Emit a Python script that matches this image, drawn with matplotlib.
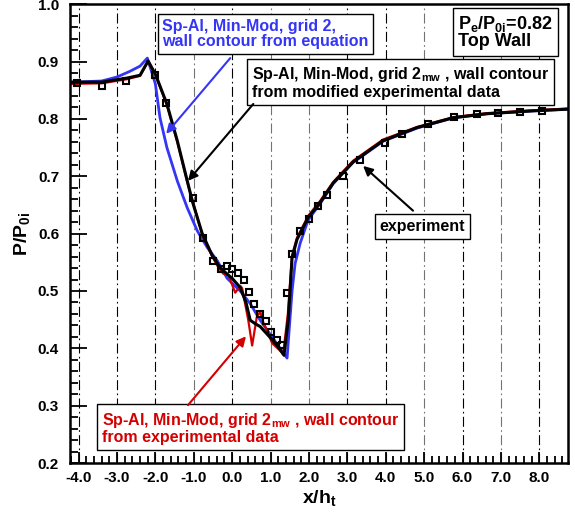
import matplotlib
matplotlib.use("Agg")
import matplotlib.pyplot as plt
from matplotlib.ticker import MultipleLocator, AutoMinorLocator, FormatStrFormatter

plt.rcParams['font.family'] = ['Liberation Sans', 'DejaVu Sans']
plt.rcParams['font.weight'] = 'bold'
plt.rcParams['axes.labelweight'] = 'bold'
plt.rcParams['mathtext.fontset'] = 'custom'
plt.rcParams['mathtext.rm'] = 'Liberation Sans:bold'
plt.rcParams['mathtext.it'] = 'Liberation Sans:bold'
plt.rcParams['mathtext.bf'] = 'Liberation Sans:bold'
plt.rcParams['mathtext.default'] = 'rm'

# experiment (open squares)
x_exp = [-4.04, -3.39, -2.76, -2.0, -1.72, -1.02, -0.76, -0.49, -0.29, -0.13, 0.0, 0.16,
         0.30, 0.44, 0.58, 0.73, 0.88, 1.02, 1.16, 1.30, 1.43, 1.55, 1.76, 1.99, 2.23,
         2.46, 2.89, 3.33, 3.98, 4.42, 5.10, 5.78, 6.38, 6.93, 7.50, 8.07]
p_exp = [0.862, 0.858, 0.866, 0.876, 0.828, 0.662, 0.593, 0.553, 0.539, 0.543, 0.538, 0.531,
         0.519, 0.499, 0.478, 0.460, 0.448, 0.429, 0.415, 0.405, 0.496, 0.564, 0.604, 0.626, 0.649,
         0.667, 0.701, 0.728, 0.758, 0.774, 0.791, 0.803, 0.809, 0.810, 0.812, 0.814]

# Sp-Al, Min-Mod, grid 2, wall contour from equation
x_eq = [-4.2, -3.4, -3.0, -2.66, -2.4, -2.21, -2.0, -1.88, -1.7, -1.43, -1.17, -0.91, -0.65,
        -0.39, -0.13, 0.21, 0.47, 0.73, 1.07, 1.43, 1.56, 1.64, 1.77, 1.98, 2.29, 2.63,
        3.15, 3.93, 4.82, 5.76, 6.64, 7.84, 8.75]
p_eq = [0.864, 0.866, 0.873, 0.883, 0.892, 0.906, 0.861, 0.802, 0.750, 0.692, 0.645, 0.605, 0.576,
        0.553, 0.522, 0.500, 0.478, 0.449, 0.417, 0.383, 0.500, 0.548, 0.583, 0.624, 0.652, 0.687,
        0.724, 0.761, 0.784, 0.802, 0.809, 0.814, 0.817]

# grid 2mw, wall contour from experimental data
x_ed = [-4.2, -3.4, -2.75, -2.4, -2.19, -2.0, -1.7, -1.43, -1.17, -0.78, -0.52, -0.35, -0.23,
        -0.1, 0.08, 0.21, 0.26, 0.42, 0.52, 0.64, 0.73, 0.81, 0.91, 1.04, 1.33, 1.45, 1.56,
        1.69, 1.98, 2.29, 2.63, 3.15, 3.93, 4.82, 5.76, 6.64, 7.84, 8.75]
p_ed = [0.861, 0.862, 0.869, 0.875, 0.900, 0.877, 0.824, 0.760, 0.690, 0.598, 0.560, 0.540, 0.530,
        0.528, 0.497, 0.509, 0.505, 0.449, 0.405, 0.454, 0.464, 0.445, 0.431, 0.409, 0.391, 0.460, 0.562,
        0.593, 0.631, 0.657, 0.690, 0.727, 0.764, 0.786, 0.803, 0.810, 0.815, 0.818]

# grid 2mw, wall contour from modified experimental data
x_md = [-4.2, -3.4, -2.75, -2.4, -2.19, -2.0, -1.7, -1.43, -1.17, -1.04, -0.78, -0.52, -0.31,
        0.0, 0.21, 0.36, 0.47, 0.6, 0.73, 0.99, 1.17, 1.35, 1.46, 1.56, 1.69, 1.98, 2.29,
        2.63, 3.15, 3.93, 4.82, 5.76, 6.64, 7.84, 8.75]
p_md = [0.864, 0.864, 0.871, 0.876, 0.901, 0.878, 0.826, 0.762, 0.692, 0.657, 0.600, 0.562, 0.540,
        0.522, 0.506, 0.480, 0.449, 0.443, 0.438, 0.419, 0.405, 0.388, 0.449, 0.558, 0.590, 0.628, 0.654,
        0.688, 0.725, 0.762, 0.785, 0.802, 0.809, 0.814, 0.817]

x_grid = [-4, -3, -2, -1, 0, 1, 2, 3, 4, 5, 6, 7, 8]
grid_col = ['k', 'k', 'k', '0.45', 'k', '0.45', '0.45', 'k', 'k', '0.45', 'k', '0.45', 'k']

fig = plt.figure(figsize=(5.75, 5.18), dpi=100)
ax = fig.add_axes([0.122, 0.106, 0.866, 0.886])

for xg, c in zip(x_grid, grid_col):
    ax.axvline(xg, color=c, lw=0.8, ls=(0, (9, 3, 1.5, 3)), zorder=0)

blue = '#3535f5'
red = '#d40000'
ax.plot(x_eq, p_eq, color=blue, lw=2)
ax.plot(x_ed, p_ed, color=red, lw=1.6)
ax.plot(x_md, p_md, color='k', lw=2.2)
ax.plot(x_exp, p_exp, ls='none', marker='s', ms=5, mfc='none', mec='k', mew=1.5)

ax.set_xlim(-4.22, 8.75)
ax.set_ylim(0.2, 1.0)
ax.xaxis.set_major_locator(MultipleLocator(1))
ax.xaxis.set_minor_locator(AutoMinorLocator(5))
ax.yaxis.set_major_locator(MultipleLocator(0.1))
ax.yaxis.set_minor_locator(AutoMinorLocator(5))
ax.xaxis.set_major_formatter(FormatStrFormatter('%.1f'))
ax.yaxis.set_major_formatter(FormatStrFormatter('%.1f'))
ax.tick_params(which='both', direction='in', width=1.3, labelsize=11)
ax.tick_params(axis='y', which='major', length=12, pad=8)
ax.tick_params(axis='y', which='minor', length=6)
ax.tick_params(axis='x', which='major', length=8, pad=6)
ax.tick_params(axis='x', which='minor', length=5)
for s in ax.spines.values():
    s.set_linewidth(1.8)

ax.set_xlabel('x/h$_t$', fontsize=14, fontweight='bold', labelpad=2)
ax.set_ylabel('P/P$_{0i}$', fontsize=14, fontweight='bold', labelpad=4)

fs = 11.5
box = dict(boxstyle='square,pad=0.3', fc='white', ec='k', lw=1)
arw = dict(arrowstyle='-|>', lw=1.5, mutation_scale=14, shrinkA=0, shrinkB=0)

ax.text(-1.82, 0.948, 'Sp-Al, Min-Mod, grid 2,\nwall contour from equation',
        color=blue, fontsize=fs, ha='left', va='center', linespacing=1.05, bbox=box)
ax.annotate('', xy=(-1.72, 0.774), xytext=(-0.05, 0.906),
            arrowprops=dict(arw, color=blue))

ax.text(0.52, 0.863, 'Sp-Al, Min-Mod, grid 2$_{mw}$ , wall contour\nfrom modified experimental data',
        color='k', fontsize=fs, ha='left', va='center', linespacing=1.05, bbox=box)
ax.annotate('', xy=(-1.15, 0.692), xytext=(0.55, 0.826),
            arrowprops=dict(arw, color='k'))

ax.text(5.89, 0.951, 'P$_e$/P$_{0i}$=0.82\nTop Wall', color='k', fontsize=13,
        ha='left', va='center', linespacing=0.9, bbox=dict(box, pad=0.15))

ax.text(4.95, 0.612, 'experiment', color='k', fontsize=fs, ha='center', va='center',
        bbox=dict(box, pad=0.5))
ax.annotate('', xy=(3.41, 0.718), xytext=(4.71, 0.640),
            arrowprops=dict(arw, color='k'))

ax.text(-3.39, 0.261, 'Sp-Al, Min-Mod, grid 2$_{mw}$ , wall contour\nfrom experimental data',
        color=red, fontsize=fs, ha='left', va='center', linespacing=1.05, bbox=box)
ax.annotate('', xy=(0.36, 0.421), xytext=(-1.15, 0.301),
            arrowprops=dict(arw, color=red))

fig.savefig('out.png', dpi=100)
